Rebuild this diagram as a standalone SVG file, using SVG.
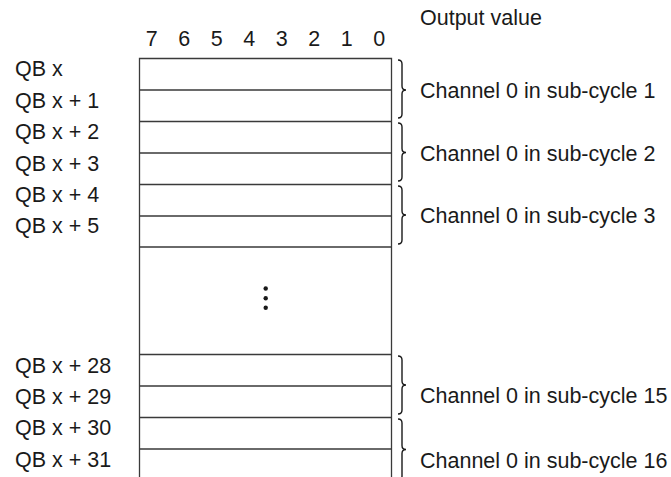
<svg xmlns="http://www.w3.org/2000/svg" width="671" height="477" viewBox="0 0 671 477">
<style>
text{font-family:"Liberation Sans",Arial,sans-serif;font-size:21.5px;fill:#1a1a1a}
.bit{text-anchor:middle}
.ln{stroke:#3a3a3a;stroke-width:1.3;fill:none}
.br{stroke:#1a1a1a;stroke-width:1.4;fill:none}
</style>
<rect width="671" height="477" fill="#fff"/>
<g id="header">
<text x="420" y="25">Output value</text>
<text class="bit" x="151.7" y="46">7</text>
<text class="bit" x="184.2" y="46">6</text>
<text class="bit" x="216.7" y="46">5</text>
<text class="bit" x="249.2" y="46">4</text>
<text class="bit" x="281.7" y="46">3</text>
<text class="bit" x="314.2" y="46">2</text>
<text class="bit" x="346.7" y="46">1</text>
<text class="bit" x="379.2" y="46">0</text>
</g>
<g id="labels">
<text x="15" y="76">QB x</text>
<text x="15" y="107.5">QB x + 1</text>
<text x="15" y="139">QB x + 2</text>
<text x="15" y="170.5">QB x + 3</text>
<text x="15" y="202">QB x + 4</text>
<text x="15" y="233">QB x + 5</text>
<text x="15" y="372.7">QB x + 28</text>
<text x="15" y="404">QB x + 29</text>
<text x="15" y="435.3">QB x + 30</text>
<text x="15" y="466.7">QB x + 31</text>
</g>
<g id="table">
<path class="ln" d="M139.5,490 V58.5 H391.5 V490"/>
<path class="ln" d="M139.5,90 H391.5 M139.5,121.5 H391.5 M139.5,153 H391.5 M139.5,184.5 H391.5 M139.5,216 H391.5 M139.5,247 H391.5 M139.5,354.5 H391.5 M139.5,386 H391.5 M139.5,417.5 H391.5 M139.5,449 H391.5"/>
<circle cx="265.7" cy="288.5" r="2.2" fill="#1a1a1a"/>
<circle cx="265.7" cy="298.3" r="2.2" fill="#1a1a1a"/>
<circle cx="265.7" cy="307.8" r="2.2" fill="#1a1a1a"/>
</g>
<g id="braces">
<path class="br" d="M398,60 Q402,60 402,64 V86 Q402,90 406,90 Q402,90 402,94 V114 Q402,118 398,118"/>
<path class="br" d="M398,123 Q402,123 402,127 V148.5 Q402,152.5 406,152.5 Q402,152.5 402,156.5 V177 Q402,181 398,181"/>
<path class="br" d="M398,186 Q402,186 402,190 V211 Q402,215 406,215 Q402,215 402,219 V240 Q402,244 398,244"/>
<path class="br" d="M398,356 Q402,356 402,360 V381 Q402,385 406,385 Q402,385 402,389 V410 Q402,414 398,414"/>
<path class="br" d="M398,419 Q402,419 402,423 V445.5 Q402,449.5 406,449.5 Q402,449.5 402,453.5 V476 Q402,480 398,480"/>
</g>
<g id="channels">
<text x="420" y="98.3">Channel 0 in sub-cycle 1</text>
<text x="420" y="160.7">Channel 0 in sub-cycle 2</text>
<text x="420" y="223.3">Channel 0 in sub-cycle 3</text>
<text x="420" y="403">Channel 0 in sub-cycle 15</text>
<text x="420" y="467.7">Channel 0 in sub-cycle 16</text>
</g>
</svg>
